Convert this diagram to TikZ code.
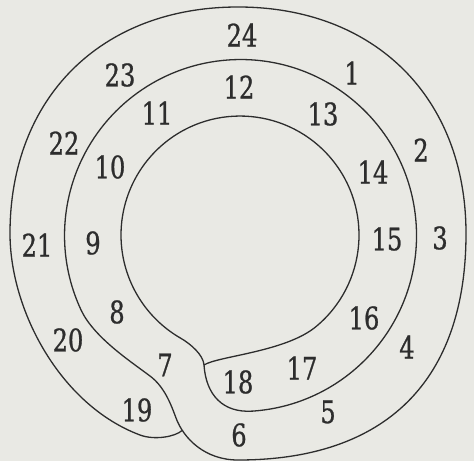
\documentclass[tikz,border=0pt]{standalone}
\usepackage{fontspec}
\newfontfamily\numfont{DejaVu Serif}[FakeStretch=0.78, FakeBold=0.8]
\definecolor{paper}{RGB}{233,233,228}
\definecolor{ink}{RGB}{45,45,45}
\tikzset{
  spiral/.style={draw=ink, line width=1.3pt, line join=round},
  num/.style={inner sep=0pt, text=ink, font=\numfont\fontsize{31}{31}\selectfont},
}
\begin{document}
\begin{tikzpicture}[x=1pt,y=-1pt]
\fill[paper] (0,0) rectangle (474,461);
\useasboundingbox (0,0) rectangle (474,461);
% the single spiral line
\draw[spiral]
  (204,365) .. controls (218,356) and (286,352) .. (316.5,326.2)
  arc[start angle=50, end angle=-240, radius=119]
  .. controls (190.9,344) and (203.3,355) .. (204,365)
  .. controls (206,395) and (222.9,413.2) .. (252.8,411.1)
  arc[start angle=86, end angle=-205, radius=176]
  .. controls (93.7,337.1) and (130,361) .. (150,376)
  .. controls (164.4,386.8) and (170.8,403.9) .. (176,418)
  .. controls (183.7,438.7) and (205,460) .. (238,460)
  .. controls (386,460) and (466,380.7) .. (466,233.5)
  .. controls (466,97.6) and (374.8,7) .. (238,7)
  .. controls (101.2,7) and (10,97.6) .. (10,233.5)
  .. controls (10,310) and (60,405) .. (140,435)
  .. controls (154,440.3) and (175,437) .. (182.2,430.4);
\node[num] (n24) at (242,35) {24};
\node[num] (n1)  at (352,73) {1};
\node[num] (n23) at (120,75) {23};
\node[num] (n12) at (239,87) {12};
\node[num] (n11) at (157,113) {11};
\node[num] (n13) at (323,114) {13};
\node[num] (n22) at (64,143) {22};
\node[num] (n2)  at (421,150) {2};
\node[num] (n10) at (110,167) {10};
\node[num] (n14) at (373,172) {14};
\node[num] (n21) at (37,245) {21};
\node[num] (n9)  at (93,243) {9};
\node[num] (n15) at (387,239) {15};
\node[num] (n3)  at (440,238) {3};
\node[num] (n8)  at (117,312) {8};
\node[num] (n16) at (364,318) {16};
\node[num] (n20) at (68,340) {20};
\node[num] (n4)  at (407,347) {4};
\node[num] (n7)  at (165,365) {7};
\node[num] (n17) at (302,368) {17};
\node[num] (n18) at (238,382) {18};
\node[num] (n19) at (137,410) {19};
\node[num] (n5)  at (328,412) {5};
\node[num] (n6)  at (239,435) {6};
\end{tikzpicture}
\end{document}
